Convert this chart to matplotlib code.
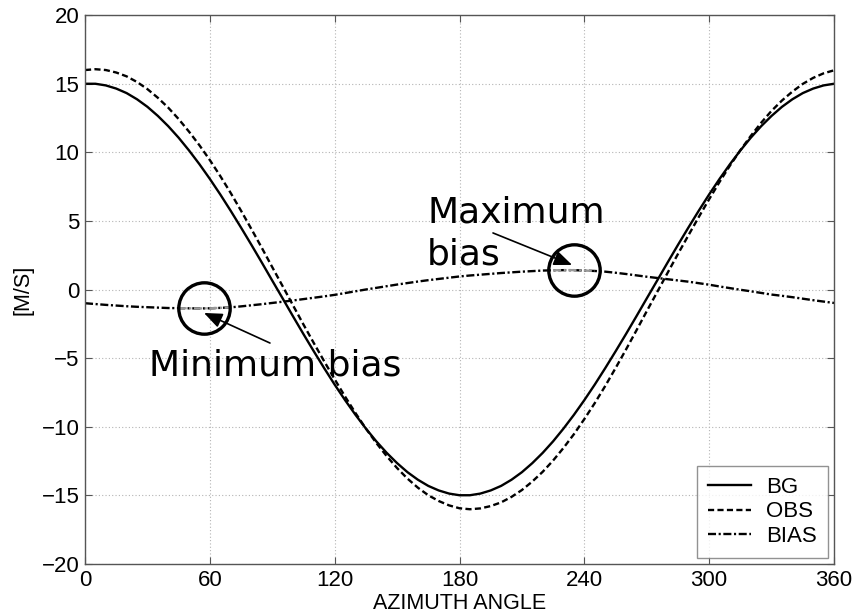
import matplotlib
matplotlib.use("Agg")
import matplotlib.pyplot as plt
import numpy as np

# ---- data (every 5 degrees) ----
azimuth = list(range(0, 361, 5))
bg = [14.99, 14.99, 14.87, 14.64, 14.31, 13.86, 13.31, 12.65, 11.90, 11.06, 10.13,
      9.13, 8.06, 6.93, 5.74, 4.51, 3.25, 1.96, 0.65, -0.65, -1.96, -3.25, -4.51,
      -5.74, -6.93, -8.06, -9.13, -10.13, -11.06, -11.90, -12.65, -13.31, -13.86,
      -14.31, -14.64, -14.87, -14.99, -14.99, -14.87, -14.64, -14.31, -13.86, -13.31,
      -12.65, -11.90, -11.06, -10.13, -9.13, -8.06, -6.93, -5.74, -4.51, -3.25,
      -1.96, -0.65, 0.65, 1.96, 3.25, 4.51, 5.74, 6.93, 8.06, 9.13, 10.13, 11.06,
      11.90, 12.65, 13.31, 13.86, 14.31, 14.64, 14.87, 14.99]
obs = [15.99, 16.05, 15.99, 15.81, 15.53, 15.12, 14.60, 13.97, 13.25, 12.42, 11.50,
       10.51, 9.43, 8.27, 7.04, 5.74, 4.40, 3.03, 1.63, 0.24, -1.16, -2.55, -3.91,
       -5.24, -6.54, -7.80, -9.00, -10.13, -11.18, -12.14, -13.01, -13.78, -14.44,
       -14.99, -15.41, -15.73, -15.94, -16.01, -15.95, -15.78, -15.51, -15.11, -14.61,
       -13.99, -13.28, -12.46, -11.54, -10.54, -9.44, -8.28, -7.04, -5.73, -4.38,
       -2.99, -1.58, -0.19, 1.21, 2.59, 3.94, 5.28, 6.58, 7.84, 9.03, 10.15, 11.19,
       12.15, 13.02, 13.77, 14.42, 14.98, 15.42, 15.75, 15.97]
bias = [-1.00, -1.06, -1.12, -1.17, -1.22, -1.26, -1.29, -1.32, -1.35, -1.36, -1.37,
        -1.38, -1.37, -1.34, -1.30, -1.23, -1.15, -1.07, -0.98, -0.89, -0.80, -0.70,
        -0.60, -0.50, -0.39, -0.26, -0.13, 0.00, 0.12, 0.24, 0.36, 0.47, 0.58, 0.68,
        0.77, 0.86, 0.95, 1.02, 1.08, 1.14, 1.20, 1.25, 1.30, 1.34, 1.38, 1.40, 1.41,
        1.41, 1.38, 1.35, 1.30, 1.22, 1.13, 1.03, 0.93, 0.84, 0.75, 0.66, 0.57, 0.46,
        0.35, 0.22, 0.10, -0.02, -0.13, -0.25, -0.37, -0.46, -0.56, -0.67, -0.78,
        -0.88, -0.98]
labels = ["BG", "OBS", "BIAS"]
xticks = [0, 60, 120, 180, 240, 300, 360]
yticks = [-20, -15, -10, -5, 0, 5, 10, 15, 20]

min_bias_pt = (57, -1.37)
max_bias_pt = (235, 1.40)

plt.rcParams['font.family'] = ['Liberation Sans', 'DejaVu Sans']

fig = plt.figure(figsize=(8.66, 6.16), dpi=100)
ax = fig.add_axes([85/866, 1-564/616, (834-85)/866, (564-15)/616])

lw = 1.7
ax.plot(azimuth, bg, color='black', lw=lw, label=labels[0])
ax.plot(azimuth, obs, color='black', lw=lw, dashes=(2.6, 1.4), label=labels[1])
ax.plot(azimuth, bias, color='black', lw=lw, dashes=(3.4, 1.1, 0.9, 1.1), label=labels[2])

# grey highlight of bias inside circles
az = np.array(azimuth); bi = np.array(bias)
for lo, hi in [(45, 70), (225, 245)]:
    m = (az >= lo) & (az <= hi)
    ax.plot(az[m], bi[m], color='#999999', lw=lw, dashes=(3.4, 1.1, 0.9, 1.1), zorder=3)

# circles
for pt in (min_bias_pt, max_bias_pt):
    ax.plot([pt[0]], [pt[1] + 0.05], marker='o', markersize=37, markerfacecolor='none',
            markeredgecolor='black', markeredgewidth=2.4, zorder=4)

# arrows
aprops = dict(arrowstyle='-|>,head_length=1.1,head_width=0.45', color='black', lw=1.2,
              shrinkA=0, shrinkB=0)
ax.annotate('', xy=(234.1, 1.79), xytext=(196.1, 4.12), arrowprops=aprops)
ax.annotate('', xy=(57.2, -1.71), xytext=(88.9, -3.90), arrowprops=aprops)

ax.text(164.4, 4.85, "Maximum", fontsize=26, family='DejaVu Sans', va='baseline', ha='left')
ax.text(164.4, 1.79, "bias", fontsize=26, family='DejaVu Sans', va='baseline', ha='left')
ax.text(30.8, -6.23, "Minimum bias", fontsize=26, family='DejaVu Sans', va='baseline', ha='left')

ax.set_xlim(0, 360)
ax.set_ylim(-20, 20)
ax.set_xticks(xticks)
ax.set_yticks(yticks)
ax.tick_params(direction='in', length=5, width=0.8, colors='#555555', labelcolor='black',
               labelsize=16, top=True, right=True, pad=4)
for s in ax.spines.values():
    s.set_color('#555555')
    s.set_linewidth(1.0)
ax.grid(True, linestyle=(0, (1, 2)), color='#b4b4b4', lw=0.8)

ax.set_xlabel("AZIMUTH ANGLE", fontsize=15.5, labelpad=2)
ax.set_ylabel("[M/S]", fontsize=15.5, labelpad=6)

leg = ax.legend(loc='lower right', fontsize=16, borderaxespad=0.27, fancybox=False,
                handlelength=1.9, handletextpad=0.7, labelspacing=0.16, borderpad=0.5)
leg.get_frame().set_edgecolor('#777777')
leg.get_frame().set_linewidth(1.0)

fig.savefig("out.png", dpi=100)
